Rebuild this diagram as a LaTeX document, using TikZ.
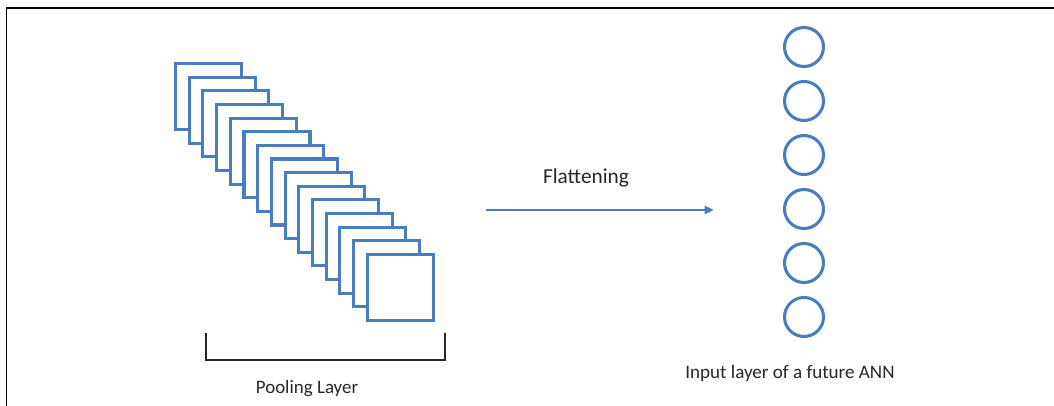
\documentclass[tikz,border=0pt]{standalone}
\usepackage{fontspec}
\setmainfont{Carlito}
\usetikzlibrary{arrows.meta}
\definecolor{officeblue}{RGB}{74,124,192}
\definecolor{txtgray}{RGB}{38,38,38}
\begin{document}
\begin{tikzpicture}[x=0.75pt,y=-0.75pt,
  mapbox/.style={draw=officeblue,line width=2.3pt,fill=white,minimum width=49.5pt,minimum height=49.5pt,inner sep=0pt},
  neuron/.style={draw=officeblue,line width=2.3pt,fill=white,circle,minimum size=29.25pt,inner sep=0pt},
  flow/.style={draw=officeblue,line width=1.7pt,-{Triangle[length=7pt,width=6pt]}},
  lbl/.style={text=txtgray,inner sep=0pt},
  frameline/.style={draw=black,line width=1.3pt},
  bracketline/.style={draw=txtgray,line width=1.1pt}]
\useasboundingbox (0,0) rectangle (1054,406);
% frame
\coordinate (fTL) at (6.5,8);
\coordinate (fTR) at (1054,8);
\coordinate (fBL) at (6.5,406);
\draw[frameline] (fTR) -- (fTL) -- (fBL);
% feature maps
\foreach \i in {0,...,14}{
  \node[mapbox] (sq\i) at ({208.5+13.7*\i},{96.5+13.64*\i}) {};
}
% bracket
\coordinate (bA) at (206,333);
\coordinate (bB) at (206,360);
\coordinate (bC) at (445,360);
\coordinate (bD) at (445,333);
\draw[bracketline] (bA) -- (bB) -- (bC) -- (bD);
\node[lbl,font=\fontsize{14.2pt}{16pt}\selectfont] (pool) at (307,389) {Pooling Layer};
% flatten arrow
\coordinate (aS) at (486,210);
\coordinate (aE) at (714,210);
\draw[flow] (aS) -- (aE);
\node[lbl,font=\fontsize{16pt}{18pt}\selectfont] (flat) at (586,178) {Flattening};
% neurons
\foreach \j in {0,...,5}{
  \node[neuron] (n\j) at (804,{47+54*\j}) {};
}
\node[lbl,font=\fontsize{14.3pt}{16pt}\selectfont] (inp) at (790,373) {Input layer of a future ANN};
\end{tikzpicture}
\end{document}
